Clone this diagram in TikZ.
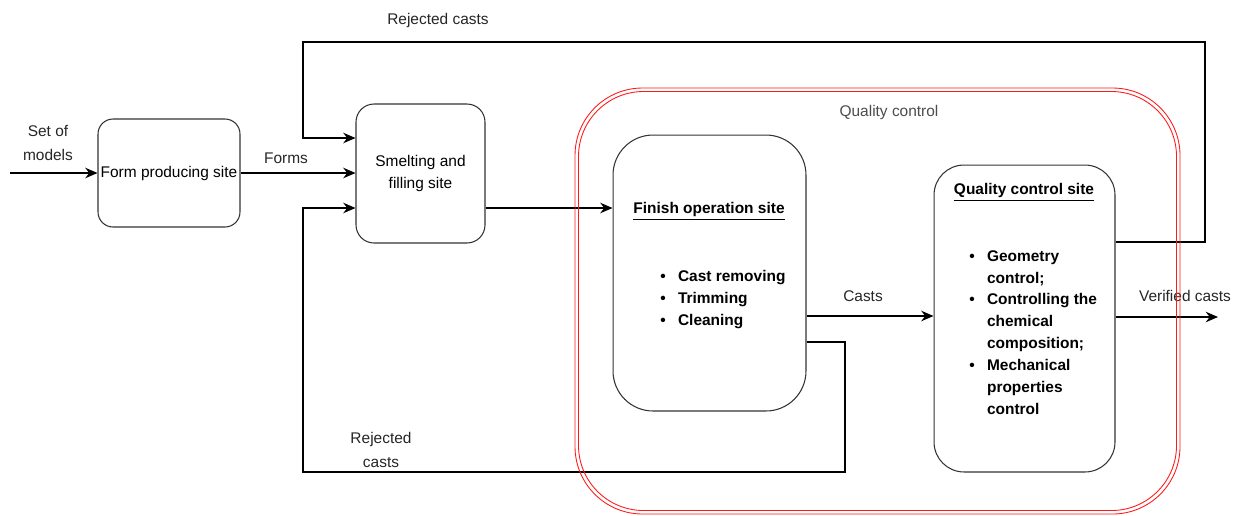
\documentclass[tikz,border=0pt]{standalone}
\usepackage{fontspec}
\setmainfont{Liberation Sans}
\usetikzlibrary{positioning, arrows.meta, calc}

\begin{document}
\begin{tikzpicture}[
        x=0.02cm, y=-0.02cm,
        site/.style={rectangle, draw=black!80, line width=0.6pt, inner sep=0pt, rounded corners=#1},
        site/.default=0.3cm,
        lbl/.style={font=\fontsize{8.8}{13.5}\selectfont, text=black!85, align=center, inner sep=0pt},
        heading/.style={font=\fontsize{8.8}{10.5}\selectfont\bfseries, inner sep=0pt},
        items/.style={font=\fontsize{8.8}{12.5}\selectfont\bfseries, inner sep=0pt, anchor=west},
        arr/.style={-{Stealth[length=7pt, width=6pt]}, line width=0.6pt},
        wire/.style={line width=0.6pt},
        group/.style={draw=red!90, line width=0.5pt, rounded corners=#1}
    ]
    \useasboundingbox (0,0) rectangle (1236,515);

    % sites
    \node[site, minimum width=2.84cm, minimum height=2.16cm, font=\fontsize{8.8}{10.5}\selectfont] (form) at (169,173) {Form producing site};
    \node[site=0.36cm, minimum width=2.58cm, minimum height=2.78cm, align=center, font=\fontsize{8.8}{12.5}\selectfont] (smelt) at (420.5,173.5) {Smelting and\\filling site};
    \node[site=0.8cm, minimum width=3.86cm, minimum height=5.52cm] (finish) at (709.5,273) {};
    \node[site=0.6cm, minimum width=3.62cm, minimum height=6.14cm] (qcsite) at (1024.5,318.5) {};

    \node[heading] (finishtitle) at (709,211) {\underline{Finish operation site}};
    \node[items] (finishlist) at (660,299) {\begin{tabular}{@{}l@{\hspace{7pt}}l@{}}
        \textbullet & Cast removing\\
        \textbullet & Trimming\\
        \textbullet & Cleaning
    \end{tabular}};

    \node[heading] (qctitle) at (1024,192) {\underline{Quality control site}};
    \node[items] (qclist) at (969,333.5) {\begin{tabular}{@{}l@{\hspace{7pt}}l@{}}
        \textbullet & Geometry\\
                    & control;\\
        \textbullet & Controlling the\\
                    & chemical\\
                    & composition;\\
        \textbullet & Mechanical\\
                    & properties\\
                    & control
    \end{tabular}};

    % free ends and bends
    \coordinate (in) at (10,173);
    \coordinate (out) at (1218,317);
    \coordinate (topright) at (1205,42);
    \coordinate (topleft) at (303,42);
    \coordinate (botright) at (845,472);
    \coordinate (botleft) at (303,472);

    % forward flow
    \draw[arr] (in) -- (form);
    \node[lbl] (models) at (48,143) {Set of\\models};
    \draw[arr] (form) -- (smelt.west |- form);
    \node[lbl] (forms) at (286,158) {Forms};
    \draw[arr] (smelt.east |- 0,208) -- (finish.west |- 0,208);
    \draw[arr] (finish.east |- 0,316) -- (qcsite.west |- 0,316);
    \node[lbl] (casts) at (863,296) {Casts};
    \draw[arr] (qcsite.east |- 0,317) -- (out);
    \node[lbl] (verified) at (1185,296) {Verified casts};

    % rejected casts loops
    \draw[arr] (qcsite.east |- 0,242) -| (topright) -- (topleft) |- (smelt.west |- 0,138);
    \node[lbl] (rejtop) at (438,20) {Rejected casts};
    \draw[arr] (finish.east |- 0,342) -| (botright) -- (botleft) |- (smelt.west |- 0,208);
    \node[lbl] (rejbot) at (381,450) {Rejected\\casts};

    % quality control group
    \node[lbl, text=black!70] (qclabel) at (889,112) {Quality control};
    \draw[group=1.35cm] (575,88) rectangle (1180,514);
    \draw[group=1.3cm] (578.5,91.5) rectangle (1176.5,510.5);
\end{tikzpicture}
\end{document}
